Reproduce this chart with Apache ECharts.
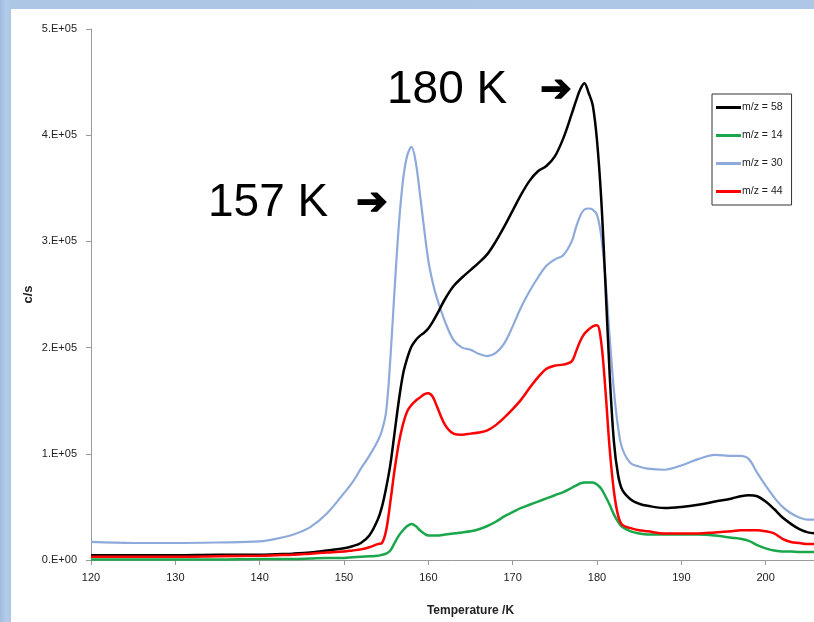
<!DOCTYPE html>
<html>
<head>
<meta charset="utf-8">
<script src="https://cdn.jsdelivr.net/npm/echarts@6/dist/echarts.min.js"></script>
<style>
html,body{margin:0;padding:0;}
body{width:814px;height:622px;overflow:hidden;position:relative;
 background:linear-gradient(90deg,#9dbbe0 0px,#b4cbe9 6px,#aec6e6 11px,#afc7e7 100%);}
#paper{position:absolute;left:11px;top:9px;right:0;bottom:0;background:#ffffff;}
#chart{position:absolute;left:0;top:0;width:814px;height:622px;}
</style>
</head>
<body>
<div id="paper"></div>
<div id="chart"></div>
<script>
// Temperature (K)
const temps = [120,125,130,135,140,142,144,146,148,150,151,152,153,154,154.5,155,155.5,156,156.5,157,157.5,158,158.5,159,159.5,160,160.5,161,162,163,164,165,166,167,168,169,170,171,172,173,174,175,176,177,177.5,178,178.5,179,179.5,180,180.5,181,181.5,182,182.5,183,184,185,186,188,190,192,194,196,197,198,199,200,201,202,203,204,205,206];

// c/s
const mz58 = [4500,4500,4500,5000,5000,5500,6000,7000,9000,11000,13000,16000,23000,38000,50000,68000,90000,120000,150000,175000,190000,201000,207000,211000,214000,218000,224000,231000,246000,258000,266000,273000,280000,288000,300000,314000,329000,344000,357000,366000,371000,380000,397000,420000,432000,443000,449000,440000,428000,395000,340000,260000,175000,112000,80000,66000,57000,53000,51000,49000,50000,52000,55000,58000,60000,61000,60000,55000,48000,40000,34000,29000,26000,25000];

const mz14 = [500,500,500,500,1000,1000,1000,1500,2000,2000,2500,3000,3500,4000,5000,6000,9000,16000,23000,28000,32000,34000,32000,28000,25000,23000,23000,23000,24000,25000,26000,27000,29000,32000,36000,41000,45000,49000,52000,55000,58000,61000,64000,68000,70000,72000,73000,73000,73000,71000,67000,60000,52000,43000,36000,31000,27000,25000,24000,24000,24000,24000,23000,21000,20000,18000,14000,11000,9000,8000,8000,7500,7500,7500];

const mz30 = [17000,16000,16000,16500,17500,20000,24000,31000,44000,63000,73000,86000,98000,112000,122000,140000,190000,255000,315000,358000,381000,389000,375000,345000,312000,282000,262000,247000,224000,207000,200000,198000,194000,192000,195000,204000,220000,238000,253000,266000,277000,283000,287000,300000,313000,324000,330000,331000,330000,325000,305000,265000,210000,160000,125000,105000,91000,88000,86000,85000,89000,95000,99000,98000,98000,95000,82000,70000,59000,50000,44000,40000,38000,38000];

const mz44 = [3000,3000,3000,3500,4000,4500,5000,6000,7000,8000,9000,10000,12000,15000,16000,28000,55000,85000,110000,128000,140000,146000,150000,153000,156000,157000,154000,145000,127000,119000,118000,119000,120000,122000,127000,134000,142000,151000,162000,172000,180000,183000,184000,187000,196000,206000,213000,217000,220000,221000,205000,160000,105000,65000,42000,33000,30000,28000,27000,25000,25000,25000,26000,27000,28000,28000,28000,27000,25000,20000,17000,16000,15000,15000];

const seriesNames = ['m/z = 58','m/z = 14','m/z = 30','m/z = 44'];
const yTickLabels = ['0.E+00','1.E+05','2.E+05','3.E+05','4.E+05','5.E+05'];

const pairs = arr => temps.map((t,i)=>[t,arr[i]]);

const chart = echarts.init(document.getElementById('chart'), null, {renderer:'canvas'});
const font = '"Liberation Sans", Arial, sans-serif';
const mk = (name, arr, color, w, z) => ({
  name, type:'line', data:pairs(arr), showSymbol:false, symbol:'none',
  smooth:0.35, z:z,
  lineStyle:{color, width:w}, itemStyle:{color}
});

chart.setOption({
  animation:false,
  backgroundColor:'transparent',
  grid:{left:91, top:29, bottom:62, right:-36, containLabel:false, outerBoundsMode:'none'},
  xAxis:{
    type:'value', min:120, max:210, interval:10,
    name:'Temperature /K', nameLocation:'middle', nameGap:45,
    nameTextStyle:{fontFamily:font, fontSize:12, fontWeight:'bold', color:'#222'},
    axisLine:{show:true, lineStyle:{color:'#9a9a9a', width:1}},
    axisTick:{show:true, inside:false, length:5, lineStyle:{color:'#9a9a9a'}},
    axisLabel:{fontFamily:font, fontSize:11, color:'#222', margin:12},
    splitLine:{show:false}
  },
  yAxis:{
    type:'value', min:0, max:500000, interval:100000,
    name:'c/s', nameLocation:'middle', nameGap:56, nameMoveOverlap:false,
    nameTextStyle:{fontFamily:font, fontSize:13, fontWeight:'bold', color:'#222'},
    axisLine:{show:true, lineStyle:{color:'#9a9a9a', width:1}},
    axisTick:{show:true, inside:false, length:5, lineStyle:{color:'#9a9a9a'}},
    axisLabel:{fontFamily:font, fontSize:11, color:'#222', margin:14,
      formatter:(v)=>yTickLabels[Math.round(v/100000)]},
    splitLine:{show:false}
  },
  legend:{
    orient:'vertical', left:712, top:94,
    data:seriesNames,
    icon:'rect', itemWidth:25, itemHeight:3, itemGap:17,
    padding:[8,9,8,4],
    borderColor:'#333', borderWidth:1, backgroundColor:'#fff',
    textStyle:{fontFamily:font, fontSize:10.5, color:'#222', padding:[0,0,0,-4]}
  },
  series:[
    mk(seriesNames[2], mz30, '#8eaadb', 2.2, 2),
    mk(seriesNames[0], mz58, '#000000', 2.5, 3),
    mk(seriesNames[1], mz14, '#1aa64a', 2.5, 4),
    mk(seriesNames[3], mz44, '#ff0000', 2.5, 5)
  ],
  graphic:[
    {type:'text', x:387, y:90, z:10, style:{text:'180 K', font:'46px "Liberation Sans", Arial', fill:'#000', verticalAlign:'middle'}},
    {type:'text', x:540, y:91, z:10, style:{text:'➔', font:'bold 38px "DejaVu Sans"', fill:'#000', stroke:'#000', lineWidth:1.2, verticalAlign:'middle'}},
    {type:'text', x:208, y:203, z:10, style:{text:'157 K', font:'46px "Liberation Sans", Arial', fill:'#000', verticalAlign:'middle'}},
    {type:'text', x:356, y:204, z:10, style:{text:'➔', font:'bold 38px "DejaVu Sans"', fill:'#000', stroke:'#000', lineWidth:1.2, verticalAlign:'middle'}}
  ]
});
</script>
</body>
</html>
